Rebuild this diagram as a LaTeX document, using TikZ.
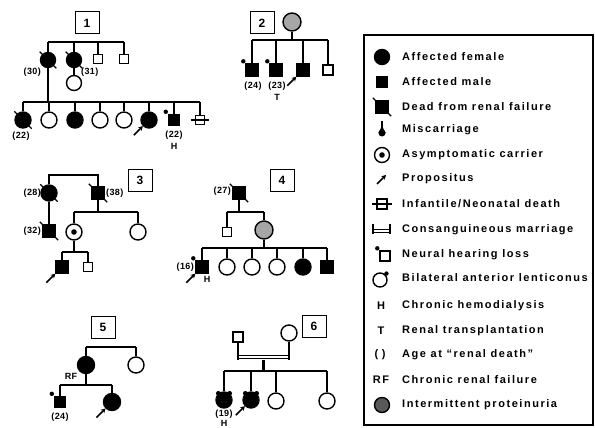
\documentclass[tikz,border=0pt]{standalone}
\usepackage{fontspec}
\setmainfont{Liberation Sans}
\newfontfamily\legfont{Liberation Sans}[LetterSpace=14]
\newfontfamily\pedfont{Liberation Sans}[LetterSpace=4]
\usetikzlibrary{calc,arrows.meta}

\tikzset{
	ped/.style={line width=2.7pt},
	thin mark/.style={line width=1.4pt},
	arrowline/.style={line width=1.6pt, -{Stealth[length=4.5pt,width=5pt]}},
	fem/.style={circle, draw, line width=1.4pt, minimum size=15pt, inner sep=0pt},
	mal/.style={rectangle, draw, line width=1.4pt, minimum size=11pt, inner sep=0pt},
	aff/.style={fill=black},
	carrier/.style={fem, path picture={\fill (path picture bounding box.center) circle (2.8pt);}},
	prot/.style={fem, fill=black!35},
	age/.style={inner sep=0pt, font=\pedfont\bfseries\fontsize{9}{10}\selectfont},
	famno/.style={draw, line width=1pt, minimum width=24pt, minimum height=22pt, font=\bfseries\fontsize{12}{13}\selectfont},
	legtext/.style={anchor=west, inner sep=0pt, font=\legfont\bfseries\fontsize{11}{12}\selectfont},
}

\newcommand\deadmark[1]{\draw[thin mark] ($(#1.north west)+(-2.5,-2.5)$) -- ($(#1.south east)+(2.5,2.5)$);}
\newcommand\hearmark[1]{\fill ($(#1.north west)+(-2,-2)$) circle (2.2pt);}
\newcommand\lentimark[1]{\fill ($(#1.north east)+(1,-1)$) circle (2.2pt);}
\newcommand\earsmark[1]{\fill ($(#1.north west)+(0.5,-0.5)$) circle (2.4pt); \fill ($(#1.north east)+(-0.5,-0.5)$) circle (2.4pt);}
\newcommand\arrowmark[1]{\draw[arrowline] ($(#1.south west)+(-9,9)$) -- (#1.south west);}

\begin{document}
\begin{tikzpicture}[x=1pt,y=-1pt]
			\useasboundingbox (0,0) rectangle (595,428);
			\clip (0,0) rectangle (595,428);

			\node[famno] (box1) at (87,23) {1};
			\node[fem,aff] (f1a) at (48,60) {};
			\node[fem,aff] (f1b) at (74,60) {};
			\node[mal,minimum size=9pt] (m1c) at (98,59) {};
			\node[mal,minimum size=9pt] (m1d) at (124,59) {};
			\node[fem] (f1e) at (74,83) {};
			\coordinate (s1a) at (0,42);
			\draw[ped] (f1a |- s1a) -- (m1d |- s1a);
			\foreach \p in {f1a,f1b,m1c,m1d} \draw[ped] (\p |- s1a) -- (\p);
			\draw[ped] (f1b) -- (f1e);
			\node[fem,aff,minimum size=16pt] (g1) at (23,120) {};
			\node[fem,minimum size=16pt] (g2) at (49,120) {};
			\node[fem,aff,minimum size=16pt] (g3) at (75,120) {};
			\node[fem,minimum size=16pt] (g4) at (100,120) {};
			\node[fem,minimum size=16pt] (g5) at (124,120) {};
			\node[fem,aff,minimum size=16pt] (g6) at (149,120) {};
			\node[mal,aff] (g7) at (174,120) {};
			\node[mal,minimum size=9pt] (g8) at (200,120) {};
			\draw[thin mark] ($(g8.west)+(-4,0)$) -- ($(g8.east)+(4,0)$);
			\coordinate (s1b) at (0,102);
			\draw[ped] (f1a) -- (f1a |- s1b);
			\draw[ped] (g1 |- s1b) -- (g8 |- s1b);
			\foreach \i in {1,...,8} \draw[ped] (g\i |- s1b) -- (g\i);
			\deadmark{f1a} \deadmark{f1b} \deadmark{g1}
			\arrowmark{g6} \hearmark{g7}
			\node[age,anchor=east] (a1a) at (41,72) {(30)};
			\node[age,anchor=west] (a1b) at (81,72) {(31)};
			\node[age] (a1g) at (21,136) {(22)};
			\node[age] (a1h) at (174,135) {(22)};
			\node[age] (a1k) at (174,146) {H};

			\node[famno] (box2) at (262,23) {2};
			\node[prot,minimum size=18pt] (f2) at (292,22) {};
			\node[mal,aff,minimum size=12pt] (m2a) at (252,70) {};
			\node[mal,aff,minimum size=12pt] (m2b) at (276,70) {};
			\node[mal,aff,minimum size=12pt] (m2c) at (303,70) {};
			\node[mal,minimum size=10pt] (m2d) at (328,70) {};
			\coordinate (s2) at (0,40);
			\draw[ped] (f2) -- (f2 |- s2);
			\draw[ped] (m2a |- s2) -- (m2d |- s2);
			\foreach \p in {m2a,m2b,m2c,m2d} \draw[ped] (\p |- s2) -- (\p);
			\hearmark{m2a} \hearmark{m2b} \arrowmark{m2c}
			\node[age] (a2a) at (253,86) {(24)};
			\node[age] (a2b) at (277,86) {(23)};
			\node[age] (a2c) at (277,97) {T};

			\node[famno] (box3) at (140,180) {3};
			\node[fem,aff,minimum size=16pt] (f3a) at (49,193) {};
			\node[mal,aff,minimum size=12pt] (m3a) at (98,193) {};
			\coordinate (t3) at (0,175);
			\draw[ped] (f3a) -- (f3a |- t3) -- (m3a |- t3) -- (m3a);
			\node[mal,aff,minimum size=12pt] (m3b) at (49,231) {};
			\draw[ped] (f3a) -- (m3b);
			\node[carrier,minimum size=16pt] (f3c) at (74,232) {};
			\node[fem,minimum size=16pt] (f3d) at (138,232) {};
			\coordinate (s3a) at (0,212);
			\draw[ped] (m3a) -- (m3a |- s3a);
			\draw[ped] (f3c |- s3a) -- (f3d |- s3a);
			\foreach \p in {f3c,f3d} \draw[ped] (\p |- s3a) -- (\p);
			\node[mal,aff,minimum size=12pt] (m3e) at (62,267) {};
			\node[mal,minimum size=9pt] (m3f) at (88,267) {};
			\coordinate (s3b) at (0,252);
			\draw[ped] (f3c) -- (f3c |- s3b);
			\draw[ped] (m3e |- s3b) -- (m3f |- s3b);
			\foreach \p in {m3e,m3f} \draw[ped] (\p |- s3b) -- (\p);
			\deadmark{f3a} \deadmark{m3a} \deadmark{m3b} \arrowmark{m3e}
			\node[age,anchor=east] (a3a) at (41,193) {(28)};
			\node[age,anchor=west] (a3b) at (106,193) {(38)};
			\node[age,anchor=east] (a3c) at (41,231) {(32)};

			\node[famno] (box4) at (282,180) {4};
			\node[mal,aff,minimum size=12pt] (m4a) at (239,193) {};
			\node[mal,minimum size=9pt] (m4b) at (227,232) {};
			\node[prot,minimum size=18pt] (f4c) at (264,230) {};
			\coordinate (s4a) at (0,212);
			\draw[ped] (m4a) -- (m4a |- s4a);
			\draw[ped] (m4b |- s4a) -- (f4c |- s4a);
			\foreach \p in {m4b,f4c} \draw[ped] (\p |- s4a) -- (\p);
			\node[mal,aff,minimum size=12pt] (m4d) at (202,267) {};
			\node[fem,minimum size=16pt] (f4e) at (227,267) {};
			\node[fem,minimum size=16pt] (f4f) at (252,267) {};
			\node[fem,minimum size=16pt] (f4g) at (277,267) {};
			\node[fem,aff,minimum size=16pt] (f4h) at (303,267) {};
			\node[mal,aff,minimum size=12pt] (m4i) at (327,267) {};
			\coordinate (s4b) at (0,248);
			\draw[ped] (f4c) -- (f4c |- s4b);
			\draw[ped] (m4d |- s4b) -- (m4i |- s4b);
			\foreach \p in {m4d,f4e,f4f,f4g,f4h,m4i} \draw[ped] (\p |- s4b) -- (\p);
			\deadmark{m4a} \hearmark{m4d} \arrowmark{m4d}
			\node[age,anchor=east] (a4a) at (231,191) {(27)};
			\node[age,anchor=east] (a4b) at (194,267) {(16)};
			\node[age] (a4c) at (207,279) {H};

			\node[famno] (box5) at (103,327) {5};
			\node[fem,aff,minimum size=17pt] (f5a) at (86,365) {};
			\node[fem,minimum size=16pt] (f5b) at (136,365) {};
			\coordinate (s5a) at (0,347);
			\draw[ped] (f5a |- s5a) -- (f5b |- s5a);
			\foreach \p in {f5a,f5b} \draw[ped] (\p |- s5a) -- (\p);
			\node[mal,aff] (m5c) at (60,402) {};
			\node[fem,aff,minimum size=17pt] (f5d) at (112,402) {};
			\coordinate (s5b) at (0,385);
			\draw[ped] (f5a) -- (f5a |- s5b);
			\draw[ped] (m5c |- s5b) -- (f5d |- s5b);
			\foreach \p in {m5c,f5d} \draw[ped] (\p |- s5b) -- (\p);
			\hearmark{m5c} \arrowmark{f5d}
			\node[age] (a5a) at (71,376) {RF};
			\node[age] (a5b) at (60,417) {(24)};

			\node[famno] (box6) at (314,326) {6};
			\node[mal,minimum size=10pt] (m6a) at (238,337) {};
			\node[fem,minimum size=16pt] (f6b) at (289,333) {};
			\coordinate (c6) at (0,357);
			\coordinate (c6l) at (0,359.5);
			\draw[line width=1.5pt, double, double distance=1.5pt] (m6a |- c6) -- (f6b |- c6);
			\draw[ped] (m6a) -- (m6a |- c6l);
			\draw[ped] (f6b) -- (f6b |- c6l);
			\coordinate (d6) at ($(m6a |- c6l)!0.5!(f6b |- c6l)$);
			\node[fem,aff,minimum size=16pt] (f6c) at (224,400) {};
			\node[fem,aff,minimum size=16pt] (f6d) at (251,400) {};
			\node[fem,minimum size=16pt] (f6e) at (276,401) {};
			\node[fem,minimum size=16pt] (f6f) at (327,401) {};
			\coordinate (s6) at (0,371);
			\draw[ped] (d6) -- (d6 |- s6);
			\draw[ped] (f6c |- s6) -- (f6f |- s6);
			\foreach \p in {f6c,f6d,f6e,f6f} \draw[ped] (\p |- s6) -- (\p);
			\earsmark{f6c} \earsmark{f6d} \arrowmark{f6d}
			\node[age] (a6a) at (224,414) {(19)};
			\node[age] (a6b) at (224,423.5) {H};

			\draw[line width=1.2pt] (364,35) rectangle (593,425);
			\node[fem,aff] (k1) at (382,57) {};
			\node[mal,aff] (k2) at (382,82) {};
			\node[mal,aff,minimum size=12pt] (k3) at (382,107) {};
			\deadmark{k3}
			\node[circle,fill,minimum size=7pt,inner sep=0pt] (k4) at (382,133) {};
			\fill (k4.west) -- (382,126) -- (k4.east) -- cycle;
			\draw[line width=1.4pt] (k4.center) -- (382,121);
			\node[carrier,minimum size=15pt] (k5) at (382,155) {};
			\coordinate (k6) at (386,175);
			\draw[arrowline] ($(k6)+(-9,9)$) -- (k6);
			\node[mal,minimum size=10pt] (k7) at (382,204) {};
			\draw[thin mark] ($(k7.west)+(-4,0)$) -- ($(k7.east)+(4,0)$);
			\coordinate (k8a) at (373,224);
			\coordinate (k8b) at (390,224);
			\draw[line width=1.4pt, double, double distance=1.3pt] ($(k8a)+(0,7)$) -- ($(k8b)+(0,7)$);
			\draw[line width=2pt] (k8a) -- ++(0,10);
			\draw[line width=2pt] (k8b) -- ++(0,10);
			\node[mal,minimum size=10pt] (k9) at (385,256) {};
			\hearmark{k9}
			\node[fem,minimum size=14pt] (k10) at (380,280) {};
			\lentimark{k10}
			\node[legtext,anchor=center] (k11) at (381,306) {H};
			\node[legtext,anchor=center] (k12) at (381,331) {T};
			\node[legtext,anchor=center] (k13) at (380,355) {(\,\,)};
			\node[legtext,anchor=center] (k14) at (381,380) {RF};
			\node[fem,fill=black!65,minimum size=15pt] (k15) at (382,405) {};
			\foreach \y/\txt in {57/Affected female, 82/Affected male, 107/Dead from renal failure,
				130/Miscarriage, 155/Asymptomatic carrier, 179/Propositus, 204/{Infantile/Neonatal death},
				230/Consanguineous marriage, 255/Neural hearing loss, 278/Bilateral anterior lenticonus,
				306/Chronic hemodialysis, 331/Renal transplantation, 355/Age at “renal death”,
				380/Chronic renal failure, 405/Intermittent proteinuria}
				\node[legtext] at (402,\y) {\txt};
\end{tikzpicture}
\end{document}
